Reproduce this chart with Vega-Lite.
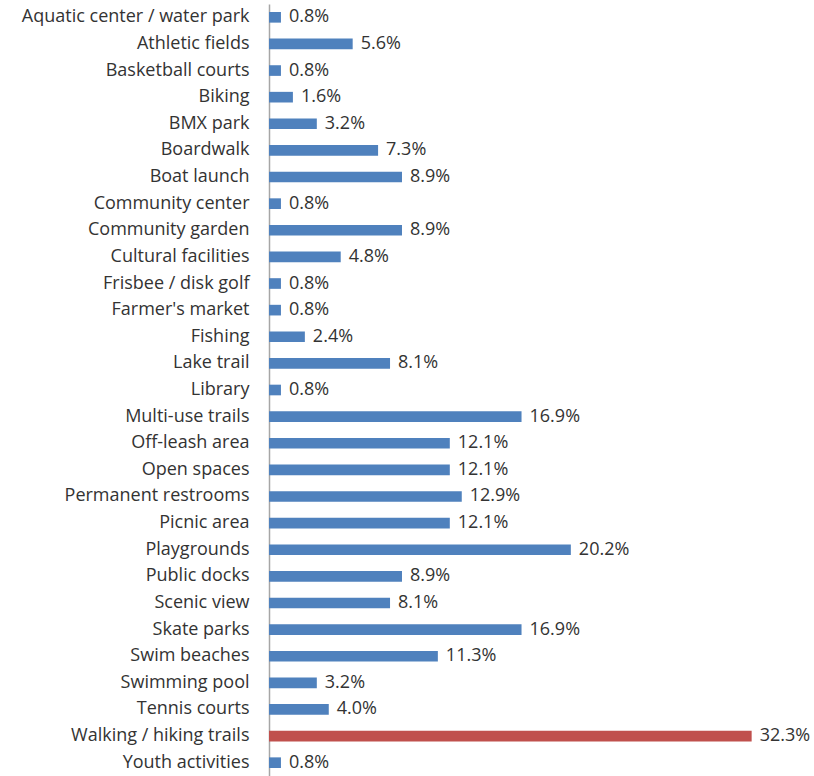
{
  "$schema": "https://vega.github.io/schema/vega-lite/v6.json",
  "autosize": {"type": "none"},
  "width": 523,
  "height": 772,
  "padding": {"left": 269, "top": 4, "right": 22, "bottom": 0},
  "background": "white",
  "config": {"view": {"stroke": null}, "font": "Open Sans"},
  "data": {"values": [
    {"facility": "Aquatic center / water park", "pct": 0.008, "hl": "no"},
    {"facility": "Athletic fields", "pct": 0.056, "hl": "no"},
    {"facility": "Basketball courts", "pct": 0.008, "hl": "no"},
    {"facility": "Biking", "pct": 0.016, "hl": "no"},
    {"facility": "BMX park", "pct": 0.032, "hl": "no"},
    {"facility": "Boardwalk", "pct": 0.073, "hl": "no"},
    {"facility": "Boat launch", "pct": 0.089, "hl": "no"},
    {"facility": "Community center", "pct": 0.008, "hl": "no"},
    {"facility": "Community garden", "pct": 0.089, "hl": "no"},
    {"facility": "Cultural facilities", "pct": 0.048, "hl": "no"},
    {"facility": "Frisbee / disk golf", "pct": 0.008, "hl": "no"},
    {"facility": "Farmer's market", "pct": 0.008, "hl": "no"},
    {"facility": "Fishing", "pct": 0.024, "hl": "no"},
    {"facility": "Lake trail", "pct": 0.081, "hl": "no"},
    {"facility": "Library", "pct": 0.008, "hl": "no"},
    {"facility": "Multi-use trails", "pct": 0.169, "hl": "no"},
    {"facility": "Off-leash area", "pct": 0.121, "hl": "no"},
    {"facility": "Open spaces", "pct": 0.121, "hl": "no"},
    {"facility": "Permanent restrooms", "pct": 0.129, "hl": "no"},
    {"facility": "Picnic area", "pct": 0.121, "hl": "no"},
    {"facility": "Playgrounds", "pct": 0.202, "hl": "no"},
    {"facility": "Public docks", "pct": 0.089, "hl": "no"},
    {"facility": "Scenic view", "pct": 0.081, "hl": "no"},
    {"facility": "Skate parks", "pct": 0.169, "hl": "no"},
    {"facility": "Swim beaches", "pct": 0.113, "hl": "no"},
    {"facility": "Swimming pool", "pct": 0.032, "hl": "no"},
    {"facility": "Tennis courts", "pct": 0.040, "hl": "no"},
    {"facility": "Walking / hiking trails", "pct": 0.323, "hl": "yes"},
    {"facility": "Youth activities", "pct": 0.008, "hl": "no"}
  ]},
  "encoding": {
    "y": {
      "field": "facility", "type": "nominal", "sort": null,
      "scale": {"paddingInner": 0.6, "paddingOuter": 0.3},
      "axis": {"title": null, "ticks": false, "domain": true, "domainColor": "#a6a6a6", "domainWidth": 1.5,
               "labelFontSize": 18, "labelColor": "#333333", "labelPadding": 20, "labelLimit": 300}
    },
    "x": {
      "field": "pct", "type": "quantitative",
      "scale": {"domain": [0, 0.35]},
      "axis": null
    }
  },
  "layer": [
    {
      "mark": {"type": "bar"},
      "encoding": {
        "color": {"field": "hl", "type": "nominal",
                  "scale": {"domain": ["no", "yes"], "range": ["#4F81BD", "#C0504D"]},
                  "legend": null}
      }
    },
    {
      "mark": {"type": "text", "align": "left", "dx": 8, "fontSize": 18, "color": "#333333"},
      "encoding": {"text": {"field": "pct", "type": "quantitative", "format": ".1%"}}
    }
  ]
}
